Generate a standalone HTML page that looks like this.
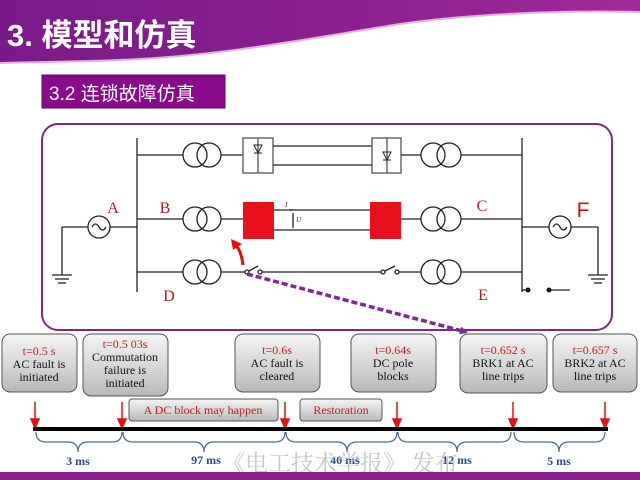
<!DOCTYPE html>
<html><head><meta charset="utf-8"><style>
html,body{margin:0;padding:0;background:#fff;width:640px;height:480px;overflow:hidden}
svg{display:block}
.s{font-family:"Liberation Serif",serif}
</style></head><body>
<svg width="640" height="480" viewBox="0 0 640 480" xmlns="http://www.w3.org/2000/svg">
<defs>
<linearGradient id="hb" x1="0" x2="1" y1="0" y2="0"><stop offset="0" stop-color="#7a1a8a"/><stop offset="0.5" stop-color="#8a1f8e"/><stop offset="1" stop-color="#a02a98"/></linearGradient>
<linearGradient id="gb" x1="0" x2="0" y1="0" y2="1"><stop offset="0" stop-color="#f4f4f4"/><stop offset="0.5" stop-color="#d8d8d8"/><stop offset="1" stop-color="#b8b8b8"/></linearGradient>
<marker id="ah" markerWidth="8" markerHeight="8" refX="6" refY="4" orient="auto" markerUnits="userSpaceOnUse"><path d="M0,0 L8,4 L0,8z" fill="#7b2a90"/></marker>
</defs>
<!-- header -->
<path d="M0,0 H640 V12 C560,10 470,14 400,24 C300,40 220,56 120,60 C70,62 30,62 0,63 Z" fill="url(#hb)"/>
<path d="M0,63 C30,62 70,62 120,60 C220,56 300,40 400,24 C470,14 560,10 640,12" fill="none" stroke="#e2b0e0" stroke-width="2"/>
<text x="7" y="46" font-family="Liberation Sans,'Noto Sans CJK SC',sans-serif" font-weight="bold" font-size="31" fill="#fff">3. 模型和仿真</text>
<rect x="42" y="75" width="183" height="33" fill="#8a0a8c" stroke="#5a0a60" stroke-width="1"/>
<text x="49" y="100" font-family="Liberation Sans,'Noto Sans CJK SC',sans-serif" font-size="19" fill="#fff">3.2 连锁故障仿真</text>
<!-- frame -->
<rect x="42" y="124" width="570" height="206" rx="16" fill="#fff" stroke="#7b2a80" stroke-width="2"/>
<g stroke="#222" stroke-width="1.3" fill="none">
<line x1="137" y1="138" x2="137" y2="292"/>
<line x1="522" y1="138" x2="522" y2="292"/>
<!-- top row -->
<line x1="137" y1="155" x2="183" y2="155"/><circle cx="195" cy="155" r="12"/><circle cx="209" cy="155" r="12"/><line x1="221" y1="155" x2="243" y2="155"/>
<rect x="243" y="138" width="30" height="35" stroke="#555"/><line x1="258" y1="138" x2="258" y2="173" stroke="#555"/>
<line x1="273" y1="146" x2="372" y2="146"/><line x1="273" y1="165" x2="372" y2="165"/>
<rect x="372" y="138" width="29" height="35" stroke="#555"/><line x1="387" y1="138" x2="387" y2="173" stroke="#555"/>
<line x1="401" y1="155" x2="421" y2="155"/><circle cx="433" cy="155" r="12"/><circle cx="449" cy="155" r="12"/><line x1="461" y1="155" x2="522" y2="155"/>
<!-- middle -->
<line x1="137" y1="219" x2="183" y2="219"/><circle cx="195" cy="219" r="12"/><circle cx="209" cy="219" r="12"/><line x1="221" y1="219" x2="243" y2="219"/>
<line x1="274" y1="210" x2="370" y2="210"/><line x1="274" y1="230" x2="370" y2="230"/>
<line x1="401" y1="219" x2="421" y2="219"/><circle cx="433" cy="219" r="12"/><circle cx="449" cy="219" r="12"/><line x1="461" y1="219" x2="522" y2="219"/>
<!-- bottom -->
<line x1="137" y1="272" x2="183" y2="272"/><circle cx="195" cy="272" r="12"/><circle cx="209" cy="272" r="12"/><line x1="221" y1="272" x2="245" y2="272"/>
<circle cx="247" cy="272" r="2"/><circle cx="260" cy="272" r="2"/><line x1="249" y1="271" x2="258" y2="266"/>
<line x1="262" y1="272" x2="381" y2="272"/>
<circle cx="383" cy="272" r="2"/><circle cx="397" cy="272" r="2"/><line x1="385" y1="271" x2="395" y2="266"/>
<line x1="399" y1="272" x2="421" y2="272"/><circle cx="433" cy="272" r="12"/><circle cx="449" cy="272" r="12"/><line x1="461" y1="272" x2="522" y2="272"/>
<!-- left source -->
<line x1="62" y1="227" x2="88" y2="227"/><circle cx="99" cy="227" r="11"/><path d="M92,227 q3.5,-6 7,0 t7,0"/><line x1="110" y1="227" x2="137" y2="227"/>
<line x1="62" y1="227" x2="62" y2="275"/><line x1="52" y1="275" x2="72" y2="275"/><line x1="55" y1="279" x2="69" y2="279"/><line x1="58" y1="283" x2="66" y2="283"/>
<!-- right source -->
<line x1="522" y1="227" x2="549" y2="227"/><circle cx="560" cy="227" r="11"/><path d="M553,227 q3.5,-6 7,0 t7,0"/><line x1="571" y1="227" x2="598" y2="227"/>
<line x1="598" y1="227" x2="598" y2="275"/><line x1="588" y1="275" x2="608" y2="275"/><line x1="591" y1="279" x2="605" y2="279"/><line x1="594" y1="283" x2="602" y2="283"/>
<line x1="522" y1="290" x2="528" y2="290"/><line x1="549" y1="290" x2="570" y2="290"/>
<!-- Id Ud -->
<line x1="290" y1="210" x2="292" y2="210"/><line x1="293" y1="213" x2="293" y2="228"/>
</g>
<circle cx="528" cy="290" r="2.5" fill="#111"/><circle cx="549" cy="290" r="2.5" fill="#111"/>
<path d="M254,145 l4,8 l4,-8z M254,153 h8" fill="none" stroke="#222"/>
<path d="M383,152 l4,8 l4,-8z M383,160 h8" fill="none" stroke="#222"/>
<rect x="243" y="202" width="31" height="37" fill="#e8101a"/>
<rect x="370" y="202" width="31" height="37" fill="#e8101a"/>
<text x="285" y="207" class="s" font-size="7" font-style="italic" fill="#333">I</text>
<text x="296" y="222" class="s" font-size="7" font-style="italic" fill="#333">U</text>
<g class="s" font-size="16" fill="#b02020" text-anchor="middle">
<text x="113" y="213">A</text><text x="165" y="213">B</text><text x="169" y="301">D</text>
<text x="482" y="211">C</text><text x="483" y="300">E</text>
</g>
<text x="583" y="217" font-family="Liberation Sans,sans-serif" font-size="21" fill="#c01818" text-anchor="middle">F</text>
<!-- red curved arrow -->
<path d="M243,265 Q241,250 236,246" fill="none" stroke="#e01010" stroke-width="3"/>
<path d="M231,239 L242,244 L233,250z" fill="#e01010"/>
<!-- dashed -->
<line x1="247" y1="274" x2="466" y2="332" stroke="#7b2a90" stroke-width="3.5" stroke-dasharray="6,3" marker-end="url(#ah)"/>
<!-- event boxes -->
<g stroke="#555" stroke-width="1" fill="url(#gb)">
<rect x="2" y="334" width="75" height="58" rx="8"/>
<rect x="83" y="334" width="85" height="62" rx="8"/>
<rect x="235" y="334" width="85" height="58" rx="8"/>
<rect x="351" y="334" width="85" height="58" rx="8"/>
<rect x="460" y="334" width="87" height="59" rx="8"/>
<rect x="553" y="334" width="84" height="58" rx="8"/>
<rect x="129" y="399" width="149" height="22" rx="3"/>
<rect x="300" y="399" width="82" height="22" rx="3"/>
</g>
<g class="s" font-size="12" text-anchor="middle" fill="#111">
<text x="39" y="355" fill="#c02020">t=0.5 s</text><text x="39" y="368">AC fault is</text><text x="39" y="381">initiated</text>
<text x="125" y="348" fill="#c02020">t=0.5 03s</text><text x="125" y="361">Commutation</text><text x="125" y="374">failure is</text><text x="125" y="387">initiated</text>
<text x="277" y="354" fill="#c02020">t=0.6s</text><text x="277" y="367">AC fault is</text><text x="277" y="380">cleared</text>
<text x="393" y="354" fill="#c02020">t=0.64s</text><text x="393" y="367">DC pole</text><text x="393" y="380">blocks</text>
<text x="503" y="354" fill="#c02020">t=0.652 s</text><text x="503" y="367">BRK1 at AC</text><text x="503" y="380">line trips</text>
<text x="595" y="354" fill="#c02020">t=0.657 s</text><text x="595" y="367">BRK2 at AC</text><text x="595" y="380">line trips</text>
<text x="203" y="414" fill="#c02020">A DC block may happen</text>
<text x="341" y="414" fill="#c02020">Restoration</text>
</g>
<!-- arrows -->
<g stroke="#e01010" stroke-width="1.5" fill="#e01010">
<line x1="35" y1="402" x2="35" y2="420"/><path d="M31,419 L39,419 L35,428z"/>
<line x1="122" y1="402" x2="122" y2="420"/><path d="M118,419 L126,419 L122,428z"/>
<line x1="285" y1="402" x2="285" y2="420"/><path d="M281,419 L289,419 L285,428z"/>
<line x1="397" y1="402" x2="397" y2="420"/><path d="M393,419 L401,419 L397,428z"/>
<line x1="513" y1="402" x2="513" y2="420"/><path d="M509,419 L517,419 L513,428z"/>
<line x1="605" y1="402" x2="605" y2="420"/><path d="M601,419 L609,419 L605,428z"/>
</g>
<line x1="33" y1="429" x2="608" y2="429" stroke="#000" stroke-width="4"/>
<g fill="none" stroke="#4a6a90" stroke-width="1.2">
<path d="M36,432 q0,10 10,10 h22 q10,0 10,10 q0,-10 10,-10 h24 q10,0 10,-10"/>
<path d="M123,432 q0,10 10,10 h61 q10,0 10,10 q0,-10 10,-10 h61 q10,0 10,-10"/>
<path d="M286,432 q0,10 10,10 h41 q10,0 10,10 q0,-10 10,-10 h30 q10,0 10,-10"/>
<path d="M398,432 q0,10 10,10 h39 q10,0 10,10 q0,-10 10,-10 h34 q10,0 10,-10"/>
<path d="M514,432 q0,10 10,10 h25 q10,0 10,10 q0,-10 10,-10 h26 q10,0 10,-10"/>
</g>
<g class="s" font-size="12" font-weight="bold" fill="#2a4a80" text-anchor="middle">
<text x="78" y="465">3 ms</text><text x="206" y="464">97 ms</text><text x="345" y="464">40 ms</text><text x="457" y="464">12 ms</text><text x="559" y="465">5 ms</text>
</g>
<text x="222" y="471" font-family="Liberation Serif,'Noto Serif CJK SC',serif" font-size="23" fill="#b8b8b8" fill-opacity="0.8">《电工技术学报》 发布</text>
<rect x="0" y="472" width="640" height="8" fill="#8a1f8e"/>
</svg>
</body></html>
